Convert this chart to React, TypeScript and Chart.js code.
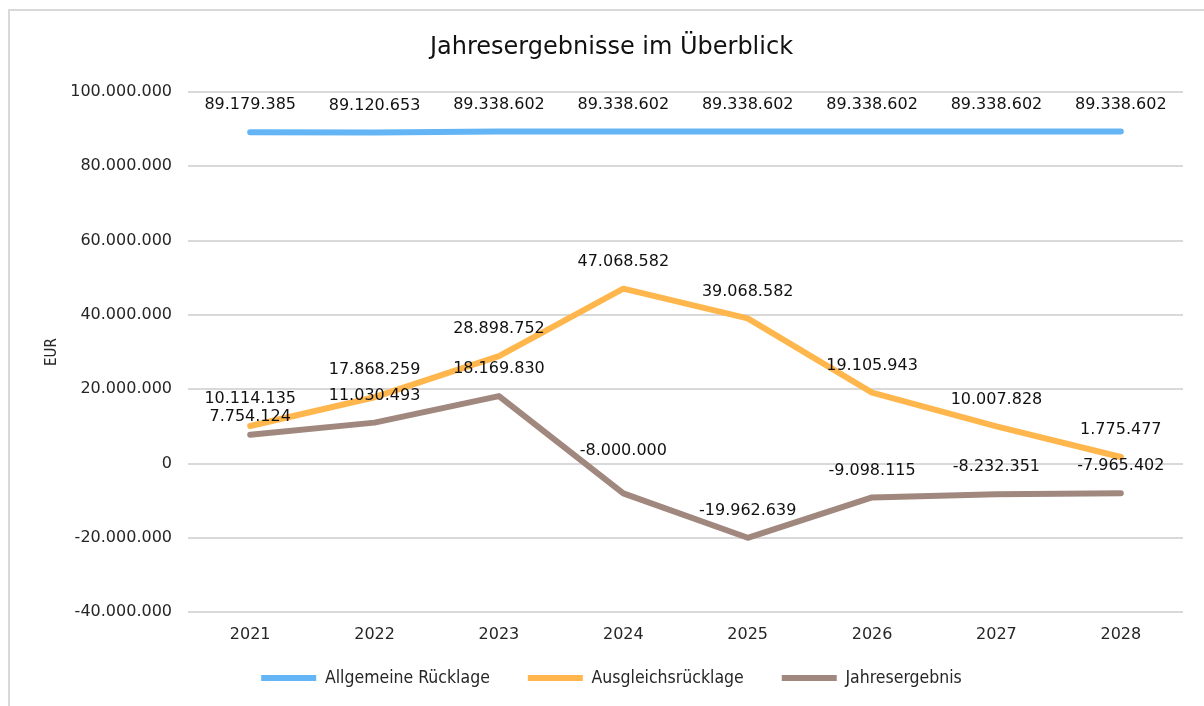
import React, { useEffect, useRef } from "react";
import { Chart, registerables } from "chart.js";

Chart.register(...registerables);

const years = ["2021", "2022", "2023", "2024", "2025", "2026", "2027", "2028"];
const allgemeineRuecklage = [89179385, 89120653, 89338602, 89338602, 89338602, 89338602, 89338602, 89338602];
const ausgleichsruecklage = [10114135, 17868259, 28898752, 47068582, 39068582, 19105943, 10007828, 1775477];
const jahresergebnis = [7754124, 11030493, 18169830, -8000000, -19962639, -9098115, -8232351, -7965402];
const seriesNames = ["Allgemeine Rücklage", "Ausgleichsrücklage", "Jahresergebnis"];
const yMin = -40000000;
const yMax = 100000000;
const yStep = 20000000;

const fmt = (v: number) => {
  const s = Math.abs(Math.round(v)).toString().replace(/\B(?=(\d{3})+(?!\d))/g, ".");
  return (v < 0 ? "-" : "") + s;
};

const MAIN_FONT = "'DejaVu Sans', Verdana, sans-serif";
const COND_FONT = "'DejaVu Sans Condensed', 'DejaVu Sans', sans-serif";

const dataLabelPlugin = {
  id: "dataLabels",
  afterDatasetsDraw(chart: any, _args: any, opts: any) {
    const ctx = chart.ctx;
    ctx.save();
    ctx.font = opts.font;
    ctx.fillStyle = opts.color;
    ctx.textAlign = "center";
    ctx.textBaseline = "middle";
    chart.data.datasets.forEach((ds: any, di: number) => {
      const meta = chart.getDatasetMeta(di);
      meta.data.forEach((pt: any, i: number) => {
        const shift = (opts.shifts[di] && opts.shifts[di][i]) || 0;
        ctx.fillText(fmt(ds.data[i]), pt.x, pt.y - opts.offset + shift);
      });
    });
    ctx.restore();
  },
};

export default function App() {
  const canvasRef = useRef<HTMLCanvasElement | null>(null);

  useEffect(() => {
    const canvas = canvasRef.current;
    if (!canvas) return;
    const mk = (label: string, data: number[], color: string) => ({
      label,
      data,
      borderColor: color,
      backgroundColor: color,
      borderWidth: 6,
      borderCapStyle: "round",
      borderJoinStyle: "round",
      pointRadius: 0,
      pointHoverRadius: 0,
      fill: false,
      tension: 0,
    });
    const chart = new Chart(canvas, {
      type: "line",
      data: {
        labels: years,
        datasets: [
          mk(seriesNames[0], allgemeineRuecklage, "#64B5F6"),
          mk(seriesNames[1], ausgleichsruecklage, "#FFB74D"),
          mk(seriesNames[2], jahresergebnis, "#A1887F"),
        ] as any,
      },
      options: {
        responsive: false,
        animation: false,
        devicePixelRatio: 1,
        layout: { padding: { left: 40, right: 21, top: 0, bottom: 9.25 } },
        scales: {
          x: {
            offset: true,
            grid: { display: false, drawTicks: false },
            border: { display: false },
            ticks: { font: { family: MAIN_FONT, size: 16 }, color: "#262626", padding: 13 },
            afterFit: (s: any) => {
              s.height = 34;
            },
          },
          y: {
            min: yMin,
            max: yMax,
            grid: { color: "#d9d9d9", lineWidth: 2, drawTicks: false },
            border: { display: false },
            ticks: {
              stepSize: yStep,
              font: { family: MAIN_FONT, size: 16 },
              color: "#262626",
              padding: 16,
              callback: (v: any) => fmt(Number(v)),
            },
            title: {
              display: true,
              text: "EUR",
              font: { family: COND_FONT, size: 15 },
              color: "#262626",
              padding: { top: 3, bottom: 0 },
            },
            afterFit: (s: any) => {
              s.width = 148;
            },
          },
        },
        plugins: {
          title: {
            display: true,
            text: "Jahresergebnisse im Überblick",
            font: { family: MAIN_FONT, size: 24, weight: "normal" },
            color: "#111",
            padding: { top: 33.6, bottom: 29.6 },
          },
          legend: {
            position: "bottom",
            title: { display: true, text: "", font: { size: 0 }, padding: { top: -15, bottom: 0 } },
            labels: {
              usePointStyle: true,
              pointStyle: "line",
              pointStyleWidth: 55,
              padding: 38,
              color: "#262626",
              font: { family: COND_FONT, size: 17.5 },
            },
          },
          tooltip: { enabled: false },
          dataLabels: {
            font: "16px " + MAIN_FONT,
            color: "#111",
            offset: 27,
            shifts: { 2: { 0: 9, 3: -15.5 } },
          },
        } as any,
      },
      plugins: [dataLabelPlugin],
    });
    return () => chart.destroy();
  }, []);

  return (
    <div style={{ position: "fixed", left: 0, top: 0, width: 1204, height: 706, overflow: "hidden", background: "#fff" }}>
      <div
        style={{
          position: "absolute",
          left: 8,
          top: 9,
          width: 1400,
          height: 900,
          border: "2px solid #d9d9d9",
          boxSizing: "border-box",
        }}
      />
      <canvas ref={canvasRef} width={1204} height={706} style={{ position: "absolute", left: 0, top: 0 }} />
    </div>
  );
}
